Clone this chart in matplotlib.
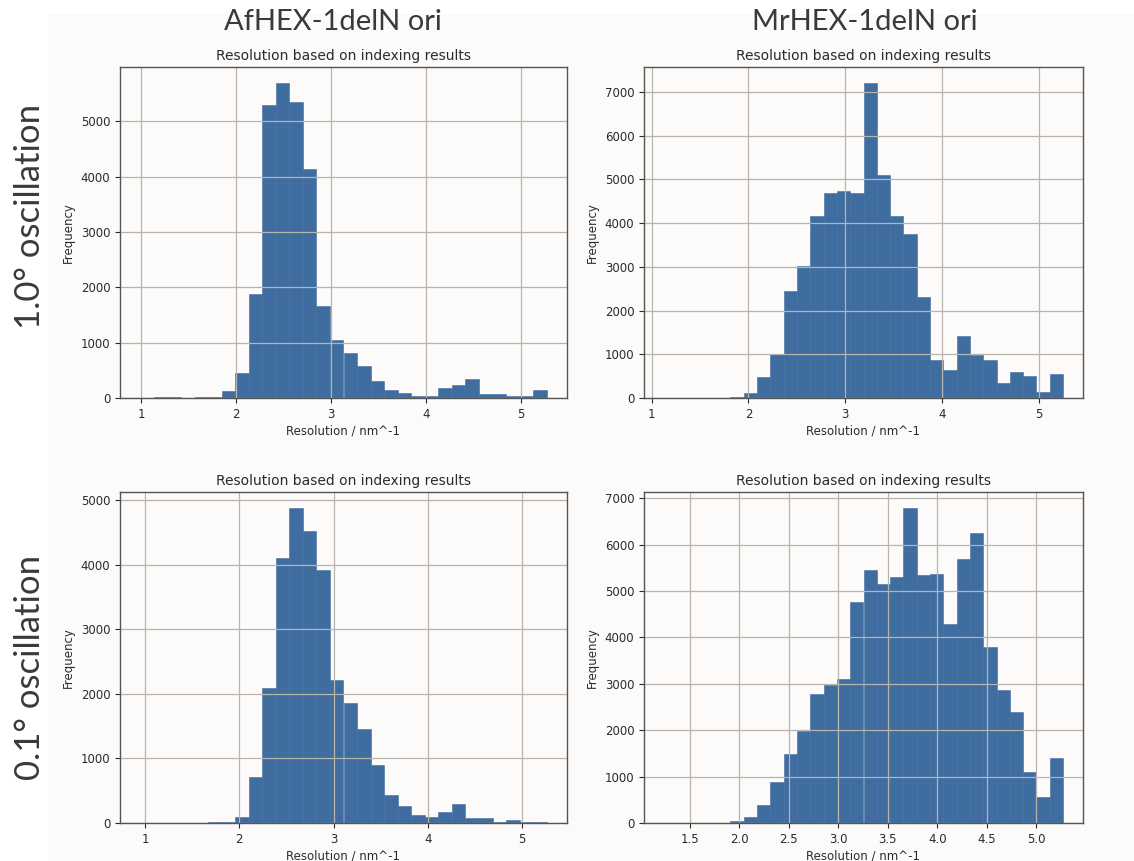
import numpy as np
import matplotlib
matplotlib.use("Agg")
import matplotlib.pyplot as plt
from matplotlib.patches import Rectangle

# histogram counts per bin (30 bins each)
af_10_range = (0.99, 5.27)
af_10_counts = [0, 20, 20, 0, 10, 10, 120, 450, 1880, 5290, 5700, 5345, 4140, 1670, 1050,
                810, 580, 310, 140, 90, 40, 30, 180, 230, 340, 70, 70, 40, 30, 150]

mr_10_range = (1.127, 5.252)
mr_10_counts = [0, 0, 0, 0, 0, 30, 115, 470, 1010, 2455, 3030, 4165, 4695, 4725, 4695,
                7210, 5105, 4165, 3750, 2305, 870, 635, 1415, 975, 870, 340, 585, 510, 145, 545]

af_01_range = (0.95, 5.26)
af_01_counts = [0, 0, 0, 0, 0, 15, 15, 100, 710, 2095, 4100, 4885, 4525, 3925, 2210,
                1860, 1460, 895, 440, 270, 130, 90, 170, 295, 80, 80, 15, 45, 10, 20]

mr_01_range = (1.24, 5.27)
mr_01_counts = [0, 0, 0, 0, 0, 35, 130, 380, 875, 1490, 1990, 2775, 2970, 3105, 4765,
                5460, 5145, 5295, 6795, 5340, 5370, 4280, 5700, 6255, 3795, 2865, 2385, 1110, 550, 1410]

col_titles = ["AfHEX-1delN ori", "MrHEX-1delN ori"]
row_titles = ["1.0° oscillation", "0.1° oscillation"]
sub_title = "Resolution based on indexing results"
x_label = "Resolution / nm^-1"
y_label = "Frequency"

bar_color = "#3f6d9f"
panel_color = "#fcfbfa"
text_color = "#2b2b2b"

W, H = 1134, 861
fig = plt.figure(figsize=(W / 100, H / 100), dpi=100)
fig.patch.set_facecolor("white")

# off-white panel behind the plots
fig.patches.append(Rectangle((48 / W, 0), 1 - 48 / W, 1 - 14 / H,
                             transform=fig.transFigure, facecolor=panel_color,
                             edgecolor="none", zorder=-10))


def px_axes(x0, y0, x1, y1):
    return fig.add_axes([x0 / W, 1 - y1 / H, (x1 - x0) / W, (y1 - y0) / H])


panels = [
    ((120, 67, 567, 398), af_10_range, af_10_counts),
    ((644, 67, 1083, 398), mr_10_range, mr_10_counts),
    ((120, 492, 567, 823), af_01_range, af_01_counts),
    ((644, 492, 1083, 823), mr_01_range, mr_01_counts),
]

for box, (lo, hi), counts in panels:
    ax = px_axes(*box)
    ax.set_facecolor(panel_color)
    edges = np.linspace(lo, hi, len(counts) + 1)
    ax.hist(edges[:-1], bins=edges, weights=counts, color=bar_color,
            edgecolor=bar_color, linewidth=0.4)
    ax.grid(True, color="#b8b4b0", linewidth=0.9)
    ax.set_title(sub_title, fontsize=10, color=text_color, pad=5)
    ax.set_xlabel(x_label, fontsize=8.5, color=text_color, labelpad=3)
    ax.set_ylabel(y_label, fontsize=8.5, color=text_color, labelpad=4)
    ax.tick_params(labelsize=8.5, colors=text_color, length=3.5)
    for s in ax.spines.values():
        s.set_color("#555555")
        s.set_linewidth(1.0)

# column and row headers
hdr = dict(family="Lato", fontweight="normal", color="#3a3a3a")
fig.text(333 / W, 1 - 22 / H, col_titles[0], ha="center", va="center", fontsize=21, **hdr)
fig.text(865 / W, 1 - 22 / H, col_titles[1], ha="center", va="center", fontsize=21, **hdr)
fig.text(30 / W, 1 - 216 / H, row_titles[0], ha="center", va="center", rotation=90,
         fontsize=25, **hdr)
fig.text(30 / W, 1 - 667 / H, row_titles[1], ha="center", va="center", rotation=90,
         fontsize=25, **hdr)

fig.savefig("out.png", dpi=100)
